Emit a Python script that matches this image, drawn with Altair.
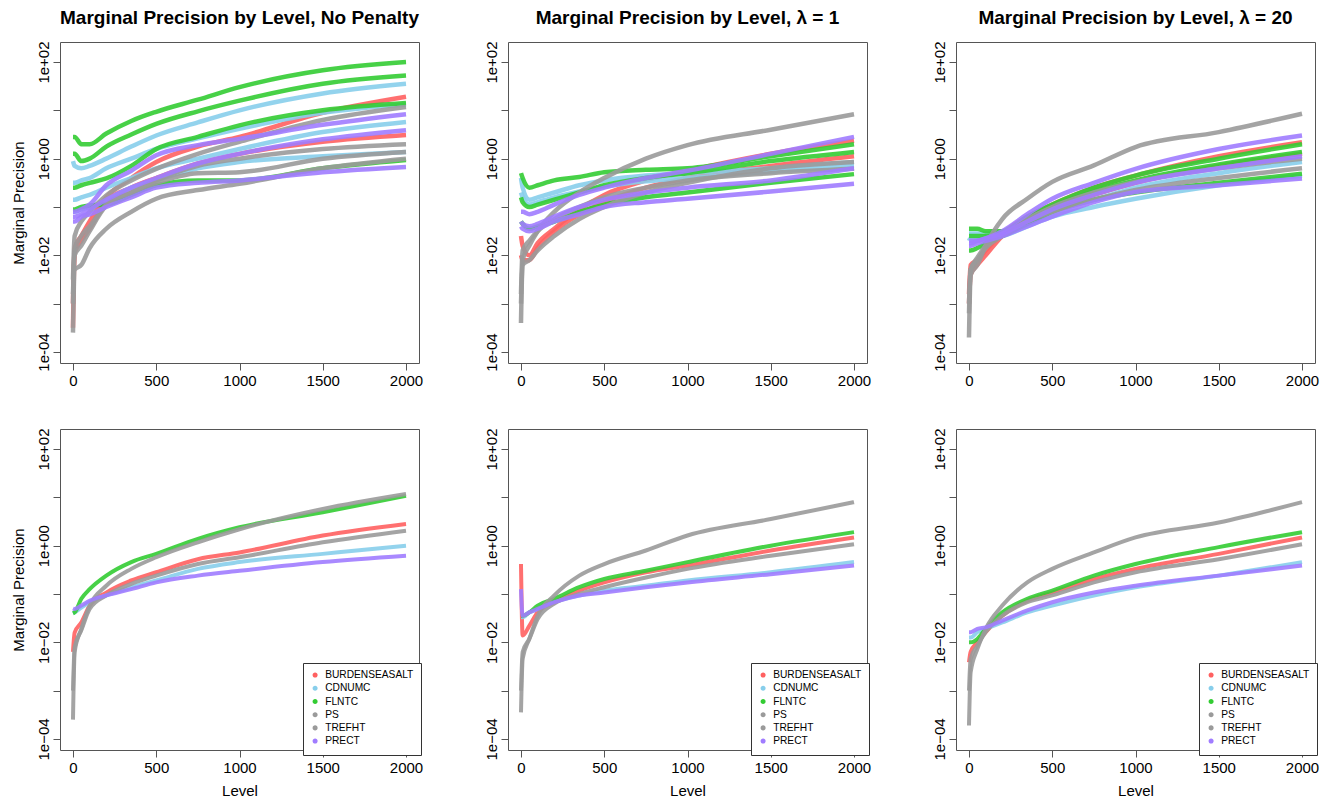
import altair as alt
import pandas as pd

LEVELS = [0, 10, 50, 100, 200, 350, 500, 750, 1000, 1500, 2000]
VARS = ["BURDENSEASALT", "CDNUMC", "FLNTC", "PS", "TREFHT", "PRECT"]
COLORS = ["#FF6060", "#87CEEB", "#33CC33", "#9A9A9A", "#9A9A9A", "#A07CFF"]

# ---- log10(marginal precision) ----
# Top row, no penalty (several runs per variable)
NP_BURDENSEASALT = [[-3.0, -1.85, -1.6, -1.3, -0.8, -0.4, -0.07, 0.25, 0.45, 0.95, 1.28],
                    [-3.5, -1.95, -1.7, -1.45, -0.9, -0.6, -0.4, -0.1, 0.1, 0.35, 0.49]]
NP_CDNUMC = [[-0.05, -0.15, -0.2, -0.15, 0.0, 0.25, 0.48, 0.75, 1.0, 1.35, 1.55],
             [-0.5, -0.5, -0.45, -0.4, -0.2, 0.0, 0.2, 0.42, 0.62, 0.95, 1.12],
             [-0.85, -0.85, -0.8, -0.75, -0.6, -0.4, -0.2, 0.0, 0.2, 0.55, 0.76],
             [-1.1, -1.1, -1.05, -1.0, -0.85, -0.6, -0.45, -0.2, -0.07, 0.05, 0.14]]
NP_FLNTC = [[0.45, 0.45, 0.3, 0.3, 0.52, 0.78, 0.97, 1.22, 1.48, 1.83, 2.0],
            [0.1, 0.1, -0.05, 0.0, 0.25, 0.5, 0.72, 0.98, 1.2, 1.55, 1.72],
            [-0.6, -0.6, -0.55, -0.5, -0.41, -0.15, 0.2, 0.45, 0.69, 1.0, 1.15],
            [-1.05, -1.05, -1.0, -0.97, -0.95, -0.75, -0.55, -0.45, -0.45, -0.2, -0.03]]
NP_PS = [[-2.5, -1.6, -1.3, -1.1, -0.76, -0.45, -0.21, 0.1, 0.35, 0.8, 1.07],
         [-3.6, -2.3, -2.2, -1.85, -1.45, -1.1, -0.83, -0.65, -0.52, -0.2, 0.0]]
NP_TREFHT = [[-3.0, -1.9, -1.6, -1.4, -0.95, -0.7, -0.45, -0.15, 0.0, 0.2, 0.3],
             [-2.8, -2.0, -1.8, -1.5, -0.97, -0.7, -0.5, -0.3, -0.28, 0.0, 0.14]]
NP_PRECT = [[-1.1, -1.1, -1.05, -0.95, -0.55, -0.25, 0.07, 0.28, 0.41, 0.7, 0.92],
            [-1.2, -1.2, -1.15, -1.05, -0.85, -0.6, -0.4, -0.1, 0.1, 0.4, 0.59],
            [-1.3, -1.3, -1.2, -1.15, -1.0, -0.8, -0.6, -0.5, -0.45, -0.28, -0.17]]

# Top row, lambda = 1
L1_BURDENSEASALT = [[-1.6, -1.8, -2.0, -1.75, -1.45, -1.05, -0.75, -0.45, -0.25, 0.1, 0.37],
                    [-2.0, -2.1, -2.1, -1.85, -1.5, -1.15, -0.9, -0.6, -0.4, -0.15, 0.05]]
L1_CDNUMC = [[-0.4, -0.6, -0.85, -0.8, -0.7, -0.55, -0.45, -0.35, -0.3, -0.2, -0.07],
             [-0.7, -0.8, -0.95, -0.9, -0.8, -0.68, -0.58, -0.47, -0.4, -0.27, -0.15]]
L1_FLNTC = [[-0.3, -0.4, -0.6, -0.55, -0.45, -0.38, -0.28, -0.23, -0.2, 0.05, 0.3],
            [-0.8, -0.9, -1.0, -0.95, -0.85, -0.7, -0.55, -0.4, -0.3, -0.05, 0.14],
            [-1.3, -1.35, -1.45, -1.4, -1.3, -1.1, -0.95, -0.8, -0.7, -0.5, -0.32]]
L1_PS = [[-3.4, -2.1, -1.8, -1.5, -1.1, -0.7, -0.4, 0.0, 0.28, 0.6, 0.92]]
L1_TREFHT = [[-3.0, -2.2, -2.1, -1.9, -1.6, -1.25, -1.0, -0.7, -0.5, -0.2, -0.07],
             [-2.8, -1.9, -1.7, -1.5, -1.25, -1.0, -0.8, -0.6, -0.45, -0.3, -0.21]]
L1_PRECT = [[-1.1, -1.1, -1.15, -1.1, -0.95, -0.75, -0.6, -0.4, -0.25, 0.1, 0.45],
            [-1.3, -1.35, -1.4, -1.35, -1.2, -1.0, -0.85, -0.7, -0.6, -0.45, -0.2],
            [-1.4, -1.45, -1.5, -1.45, -1.3, -1.15, -1.0, -0.9, -0.83, -0.68, -0.52]]

# Top row, lambda = 20
L20_BURDENSEASALT = [[-2.8, -2.2, -2.1, -1.9, -1.55, -1.2, -0.95, -0.6, -0.35, 0.05, 0.34],
                     [-3.0, -2.4, -2.2, -2.0, -1.6, -1.3, -1.05, -0.75, -0.5, -0.15, 0.1]]
L20_CDNUMC = [[-1.55, -1.55, -1.55, -1.55, -1.55, -1.3, -1.1, -0.85, -0.6, -0.3, -0.07],
              [-1.7, -1.65, -1.65, -1.65, -1.6, -1.4, -1.2, -1.0, -0.83, -0.55, -0.35]]
L20_FLNTC = [[-1.45, -1.45, -1.45, -1.5, -1.5, -1.2, -0.95, -0.6, -0.35, 0.0, 0.3],
             [-1.6, -1.6, -1.6, -1.6, -1.55, -1.25, -1.0, -0.68, -0.45, -0.12, 0.14],
             [-1.9, -1.9, -1.85, -1.75, -1.6, -1.35, -1.1, -0.85, -0.7, -0.5, -0.31]]
L20_PS = [[-3.7, -2.4, -2.2, -1.8, -1.25, -0.83, -0.48, -0.14, 0.24, 0.55, 0.93]]
L20_TREFHT = [[-3.2, -2.3, -2.1, -1.85, -1.6, -1.25, -1.0, -0.7, -0.48, -0.2, 0.0],
              [-3.0, -2.3, -2.05, -1.8, -1.55, -1.3, -1.1, -0.85, -0.65, -0.4, -0.2]]
L20_PRECT = [[-1.75, -1.75, -1.7, -1.65, -1.5, -1.15, -0.83, -0.5, -0.21, 0.2, 0.48],
             [-1.8, -1.8, -1.75, -1.7, -1.6, -1.4, -1.2, -0.9, -0.69, -0.55, -0.41],
             [-1.7, -1.7, -1.7, -1.65, -1.55, -1.3, -1.05, -0.75, -0.5, -0.2, 0.05]]

# Bottom row, single run per variable
BNP_BURDENSEASALT = [[-2.2, -1.8, -1.59, -1.24, -0.97, -0.72, -0.55, -0.28, -0.14, 0.21, 0.45]]
BNP_CDNUMC = [[-1.4, -1.38, -1.28, -1.17, -1.03, -0.86, -0.72, -0.48, -0.34, -0.17, 0.0]]
BNP_FLNTC = [[-1.4, -1.38, -1.1, -0.9, -0.62, -0.34, -0.17, 0.14, 0.38, 0.69, 1.03]]
BNP_PS = [[-3.6, -2.2, -1.72, -1.24, -0.83, -0.48, -0.24, 0.07, 0.34, 0.76, 1.07]]
BNP_TREFHT = [[-3.0, -2.1, -1.75, -1.31, -1.03, -0.79, -0.62, -0.38, -0.24, 0.07, 0.31]]
BNP_PRECT = [[-1.3, -1.31, -1.24, -1.14, -1.03, -0.9, -0.76, -0.62, -0.52, -0.34, -0.21]]

BL1_BURDENSEASALT = [[-0.38, -1.86, -1.66, -1.38, -1.17, -0.93, -0.76, -0.55, -0.41, -0.1, 0.17]]
BL1_CDNUMC = [[-1.48, -1.48, -1.38, -1.31, -1.17, -1.03, -0.93, -0.83, -0.72, -0.55, -0.34]]
BL1_FLNTC = [[-1.45, -1.45, -1.38, -1.24, -1.1, -0.86, -0.69, -0.52, -0.34, 0.0, 0.28]]
BL1_PS = [[-3.45, -2.34, -1.93, -1.45, -1.03, -0.62, -0.38, -0.1, 0.21, 0.55, 0.9]]
BL1_TREFHT = [[-3.0, -2.2, -1.93, -1.52, -1.2, -1.0, -0.86, -0.66, -0.48, -0.21, 0.03]]
BL1_PRECT = [[-0.9, -1.45, -1.38, -1.31, -1.17, -1.03, -0.97, -0.86, -0.76, -0.59, -0.41]]

BL20_BURDENSEASALT = [[-2.41, -2.2, -2.0, -1.79, -1.45, -1.14, -0.97, -0.69, -0.48, -0.17, 0.17]]
BL20_CDNUMC = [[-1.9, -1.9, -1.79, -1.72, -1.59, -1.38, -1.24, -1.03, -0.86, -0.62, -0.34]]
BL20_FLNTC = [[-2.0, -2.0, -1.93, -1.72, -1.38, -1.1, -0.93, -0.62, -0.38, -0.03, 0.28]]
BL20_PS = [[-3.72, -2.62, -2.14, -1.72, -1.24, -0.76, -0.48, -0.14, 0.17, 0.48, 0.9]]
BL20_TREFHT = [[-3.0, -2.34, -2.07, -1.79, -1.45, -1.17, -1.03, -0.76, -0.55, -0.28, 0.03]]
BL20_PRECT = [[-1.79, -1.79, -1.72, -1.69, -1.55, -1.34, -1.17, -0.97, -0.83, -0.62, -0.41]]

TITLES = ["Marginal Precision by Level, No Penalty",
          "Marginal Precision by Level, \u03bb = 1",
          "Marginal Precision by Level, \u03bb = 20"]
X_TICKS = [0, 500, 1000, 1500, 2000]
Y_TICKS = [1e-4, 1e-3, 1e-2, 1e-1, 1, 10, 100]

FONT = "Liberation Sans"


def build_frame(groups):
    rows = []
    for var, lines in zip(VARS, groups):
        for i, line in enumerate(lines):
            for lev, e in zip(LEVELS, line):
                rows.append({"var": var, "line": f"{var}_{i}", "level": lev,
                             "precision": 10 ** e})
    return pd.DataFrame(rows)


def label_expr(minus):
    e = "round(log(datum.value)/LN10)"
    return (f"({e} % 2 != 0) ? '' : (datum.value >= 1 ? '1e+0' + {e} : "
            f"'1e{minus}0' + (-{e}))")


def panel(groups, title=None, ytitle=None, xtitle=None, legend=False,
          minus="-", width=3.0):
    df = build_frame(groups)
    if legend:
        leg = alt.Legend(orient="none", legendX=243, legendY=234, title=None,
                         padding=7, strokeColor="#333333", fillColor="white",
                         symbolType="circle", symbolSize=6, symbolStrokeWidth=2.6,
                         symbolOpacity=1, labelFont=FONT, labelFontSize=10.2,
                         labelColor="black", labelOffset=5, rowPadding=-0.8)
    else:
        leg = None
    xaxis = alt.Axis(values=X_TICKS, title=xtitle, format="d", labelFontSize=15,
                     labelPadding=3, tickSize=7, titlePadding=8,
                     titleFontSize=15)
    yaxis = alt.Axis(values=Y_TICKS, title=ytitle, labelExpr=label_expr(minus),
                     labelAngle=270, labelAlign="center", labelBaseline="bottom",
                     labelFontSize=15, labelPadding=2, tickSize=7,
                     titleFontSize=15, titlePadding=10)
    ch = alt.Chart(df).mark_line(strokeWidth=width, opacity=0.9,
                                 interpolate="monotone").encode(
        x=alt.X("level:Q", axis=xaxis,
                scale=alt.Scale(domain=[-78, 2078], nice=False, zero=False)),
        y=alt.Y("precision:Q", axis=yaxis,
                scale=alt.Scale(type="log", domain=[10 ** -4.228, 10 ** 2.414],
                                nice=False)),
        color=alt.Color("var:N", legend=leg, sort=VARS,
                        scale=alt.Scale(domain=VARS, range=COLORS)),
        detail="line:N",
    )
    props = dict(width=359, height=321)
    if title:
        props["title"] = alt.TitleParams(text=title, fontSize=19,
                                         fontWeight="bold", font=FONT,
                                         anchor="middle", frame="group",
                                         offset=13, color="black")
    return ch.properties(**props)


MINUS = "\u2212"
p1 = panel([NP_BURDENSEASALT, NP_CDNUMC, NP_FLNTC, NP_PS, NP_TREFHT, NP_PRECT],
           title=TITLES[0], ytitle="Marginal Precision", width=4.5)
p2 = panel([L1_BURDENSEASALT, L1_CDNUMC, L1_FLNTC, L1_PS, L1_TREFHT, L1_PRECT],
           title=TITLES[1], width=4.5)
p3 = panel([L20_BURDENSEASALT, L20_CDNUMC, L20_FLNTC, L20_PS, L20_TREFHT, L20_PRECT],
           title=TITLES[2], width=4.5)
p4 = panel([BNP_BURDENSEASALT, BNP_CDNUMC, BNP_FLNTC, BNP_PS, BNP_TREFHT, BNP_PRECT],
           ytitle="Marginal Precision", xtitle="Level", legend=True, minus=MINUS,
           width=4)
p5 = panel([BL1_BURDENSEASALT, BL1_CDNUMC, BL1_FLNTC, BL1_PS, BL1_TREFHT, BL1_PRECT],
           xtitle="Level", legend=True, minus=MINUS, width=4)
p6 = panel([BL20_BURDENSEASALT, BL20_CDNUMC, BL20_FLNTC, BL20_PS, BL20_TREFHT, BL20_PRECT],
           xtitle="Level", legend=True, minus=MINUS, width=4)

chart = alt.concat(p1, p2, p3, p4, p5, p6, columns=3,
                   spacing={"row": 66, "column": 89}, bounds="flush"
                   ).resolve_scale(color="independent").resolve_legend(
    color="independent"
).properties(
    padding={"left": 2, "top": 0, "right": 0, "bottom": 0}
).configure(font=FONT).configure_view(
    stroke="#555555", strokeWidth=1
).configure_axis(
    domain=False, grid=False, tickColor="#555555", labelColor="black",
    titleColor="black", titleFontWeight="normal", labelFont=FONT, titleFont=FONT
)

chart.save("out.html", embed_options={"renderer": "svg", "actions": False})
